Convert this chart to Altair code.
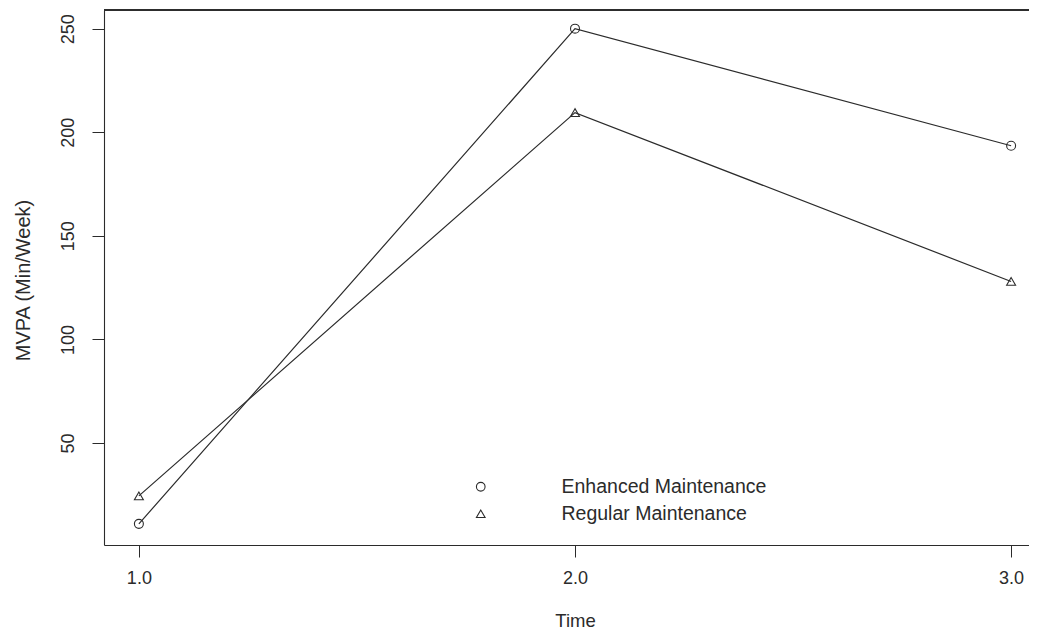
import altair as alt
import pandas as pd

times = [1.0, 2.0, 3.0]
enhanced = [11, 250, 193.5]
regular = [24.5, 209.5, 128]
groups = ["Enhanced Maintenance", "Regular Maintenance"]
y_ticks = [50, 100, 150, 200, 250]

rows = []
for g, vals in zip(groups, [enhanced, regular]):
    for t, v in zip(times, vals):
        rows.append({"Time": t, "MVPA": v, "Group": g})
df = pd.DataFrame(rows)

FONT = "Liberation Sans"
INK = "#2b2b2b"

x = alt.X(
    "Time:Q",
    scale=alt.Scale(domain=[0.92, 3.08], nice=False, zero=False),
    axis=alt.Axis(
        values=times, format=".1f", title="Time", grid=False,
        domain=True, domainColor=INK, domainWidth=1.1,
        tickSize=12, tickColor=INK, labelPadding=12, labelFontSize=18,
        labelFont=FONT, labelColor=INK, labelBaseline="top",
        titleFont=FONT, titleFontSize=18.5, titleFontWeight="normal",
        titleColor=INK, titleY=75, titleBaseline="middle",
    ),
)
y = alt.Y(
    "MVPA:Q",
    scale=alt.Scale(domain=[0.8, 259], nice=False, zero=False),
    axis=alt.Axis(
        values=y_ticks, title="MVPA (Min/Week)", grid=False,
        domain=True, domainColor=INK, domainWidth=1.1,
        tickSize=12, tickColor=INK, labelPadding=15, labelFontSize=18,
        labelFont=FONT, labelColor=INK, labelAngle=270, labelAlign="center",
        labelBaseline="bottom",
        titleFont=FONT, titleFontSize=20, titleFontWeight="normal",
        titleColor=INK, titleX=-81, titleY=270, titleAngle=270,
        titleAlign="center", titleBaseline="middle",
    ),
)

base = alt.Chart(df)

# top edge of the plot frame
frame_top = base.mark_rule(color=INK, strokeWidth=1).encode(
    y=alt.value(0), x=alt.value(0), x2=alt.value(942)
)

lines = base.mark_line(color=INK, strokeWidth=1.2).encode(
    x=x, y=y, detail="Group:N", order="Time:Q"
)

points = base.mark_point(filled=False, size=80, color=INK, strokeWidth=1.1, opacity=1).encode(
    x=x,
    y=y,
    shape=alt.Shape(
        "Group:N",
        scale=alt.Scale(domain=groups, range=["circle", "triangle-up"]),
        legend=alt.Legend(
            title=None, orient="none", legendX=367, legendY=467,
            labelFontSize=19.5, labelFont=FONT, labelColor=INK, labelOffset=71,
            labelLimit=0,
            symbolSize=75, symbolStrokeColor=INK, symbolStrokeWidth=1.1,
            symbolFillColor="white", rowPadding=6, padding=0,
        ),
    ),
)

chart = (
    alt.layer(frame_top, lines, points)
    .properties(
        width=942,
        height=535,
        background="white",
        autosize=alt.AutoSizeParams(type="none"),
        padding={"left": 96, "top": 2, "right": -17, "bottom": 86},
    )
    .configure_view(strokeWidth=0, fill="white")
)

chart.save("out.html", embed_options={"renderer": "svg", "actions": False})
